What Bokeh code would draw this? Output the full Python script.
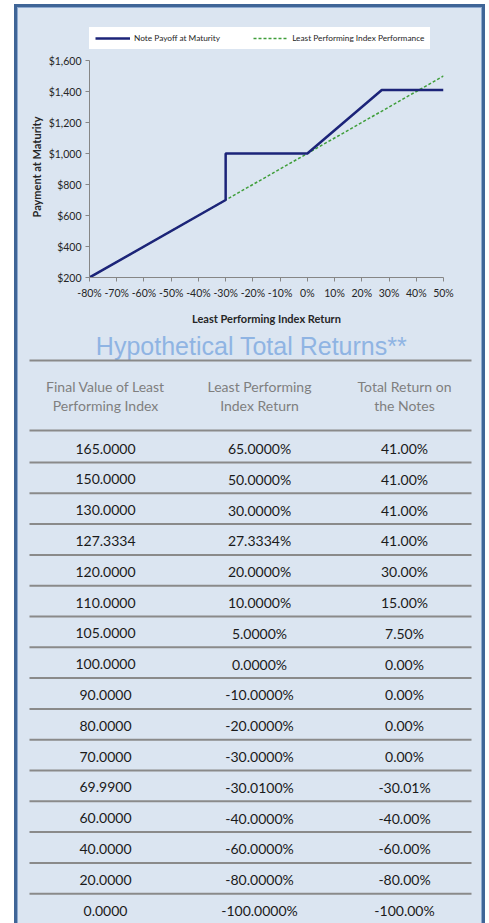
from bokeh.plotting import figure
from bokeh.models import (Range1d, FixedTicker, PrintfTickFormatter, NumeralTickFormatter,
                          Legend, LegendItem, Title)
from bokeh.layouts import column
from bokeh.embed import file_html
from bokeh.resources import INLINE
from bokeh.core.properties import value

# ---------------- data ----------------
payoff_x = [-80, -30, -30, 0, 27.3334, 50]
payoff_y = [200, 700, 1000, 1000, 1410, 1410]
index_x = [-80, 50]
index_y = [200, 1500]
x_ticks = [-80, -70, -60, -50, -40, -30, -20, -10, 0, 10, 20, 30, 40, 50]
y_ticks = [200, 400, 600, 800, 1000, 1200, 1400, 1600]

legend_labels = ["Note Payoff at Maturity", "Least Performing Index Performance"]
x_title = "Least Performing Index Return"
y_title = "Payment at Maturity"

table_title = "Hypothetical Total Returns**"
headers = [["Final Value of Least", "Performing Index"],
           ["Least Performing", "Index Return"],
           ["Total Return on", "the Notes"]]
final_values = [165.0, 150.0, 130.0, 127.3334, 120.0, 110.0, 105.0, 100.0,
                90.0, 80.0, 70.0, 69.99, 60.0, 40.0, 20.0, 0.0]
index_returns = [65.0, 50.0, 30.0, 27.3334, 20.0, 10.0, 5.0, 0.0,
                 -10.0, -20.0, -30.0, -30.01, -40.0, -60.0, -80.0, -100.0]
note_returns = [41.0, 41.0, 41.0, 41.0, 30.0, 15.0, 7.5, 0.0,
                0.0, 0.0, 0.0, -30.01, -40.0, -60.0, -80.0, -100.0]

# ---------------- style ----------------
BG = "#dbe5f1"
NAVY = "#1c2479"
GREEN = "#3f9e3a"
AXIS = "#868686"
TXT = "#262626"
FONT = "Lato"

# chart geometry (pixels inside the chart canvas)
CW, CH = 463, 322
TOP, AX_TOP, BOTTOM = 19, 52, 53        # frame top (legend), $1,600 row, bottom border
plot_h = CH - BOTTOM - AX_TOP           # pixels from $200 to $1,600
y_lo, y_hi = y_ticks[0], y_ticks[-1]
y_top = y_hi + (AX_TOP - TOP) * (y_hi - y_lo) / plot_h

# ---------------- chart ----------------
p = figure(width=CW, height=CH, x_range=Range1d(x_ticks[0], x_ticks[-1]),
           y_range=Range1d(y_lo, y_top),
           output_backend="svg", toolbar_location=None,
           min_border_left=71, min_border_right=38, min_border_top=TOP, min_border_bottom=BOTTOM,
           background_fill_color=None, border_fill_color=BG, outline_line_color=None)
p.grid.visible = False
p.frame_align = False

r_idx = p.line(index_x, index_y, line_color=GREEN, line_width=1.5, line_dash="3 2")
r_pay = p.line(payoff_x, payoff_y, line_color=NAVY, line_width=2.5)

p.xaxis.ticker = FixedTicker(ticks=x_ticks)
p.xaxis.formatter = PrintfTickFormatter(format="%d%%")
p.yaxis.ticker = FixedTicker(ticks=y_ticks)
p.yaxis.formatter = NumeralTickFormatter(format="$0,0")
p.yaxis.bounds = (y_lo, y_hi)
for ax in (p.xaxis, p.yaxis):
    ax.axis_line_color = AXIS
    ax.major_tick_line_color = AXIS
    ax.major_tick_out = 4
    ax.major_tick_in = 0
    ax.minor_tick_line_color = None
    ax.major_label_text_font = FONT
    ax.major_label_text_font_size = "10.5px"
    ax.major_label_text_color = TXT
    ax.axis_label_text_font = FONT
    ax.axis_label_text_font_size = "11px"
    ax.axis_label_text_font_style = "bold"
    ax.axis_label_text_color = TXT
p.xaxis.major_label_standoff = 5
p.xaxis.axis_label = x_title
p.xaxis.axis_label_standoff = 10
p.yaxis.major_label_standoff = 4

ytitle = Title(text=y_title, align="left", offset=60, standoff=5,
               text_font=FONT, text_font_size="11px", text_font_style="bold",
               text_color=TXT)
p.add_layout(ytitle, "left")

legend = Legend(items=[LegendItem(label=legend_labels[0], renderers=[r_pay]),
                       LegendItem(label=legend_labels[1], renderers=[r_idx])],
                orientation="horizontal", location=(0, CH - BOTTOM - 41),
                glyph_width=35, glyph_height=10, label_height=10, label_standoff=4,
                spacing=33, padding=6,
                label_text_font=FONT, label_text_font_size="8.3px", label_text_color=TXT,
                background_fill_color="white", background_fill_alpha=1,
                border_line_alpha=0)
p.add_layout(legend, "center")

# ---------------- table ----------------
TW, TH = 463, 593
t = figure(width=TW, height=TH, x_range=Range1d(0, TW), y_range=Range1d(TH, 0),
           output_backend="svg", toolbar_location=None, min_border=0,
           x_axis_location=None, y_axis_location=None,
           background_fill_color=None, border_fill_color=BG, outline_line_color=None)
t.grid.visible = False
t.frame_align = False

col_x = [87, 241, 386]
LINE_C = "#8a8a8a"
t.text(x=[233], y=[15], text=[table_title], text_font=value("Liberation Sans"),
       text_font_size="25px", text_color="#8fb4e3", text_align="center",
       text_baseline="alphabetic")

rule_y = [30, 100] + [132 + i * 30.8 for i in range(len(final_values) - 1)]
t.segment(x0=[11] * len(rule_y), x1=[453] * len(rule_y), y0=rule_y, y1=rule_y,
          line_color=LINE_C, line_width=2)

for j, hdr in enumerate(headers):
    t.text(x=[col_x[j]] * 2, y=[56, 75], text=hdr, text_font=value(FONT),
           text_font_size="14px", text_color="#7f7f7f", text_align="center",
           text_baseline="alphabetic")

row_y = [118 + i * 30.8 for i in range(len(final_values))]
cols = [[f"{v:.4f}" for v in final_values],
        [f"{v:.4f}%" for v in index_returns],
        [f"{v:.2f}%" for v in note_returns]]
for j, txts in enumerate(cols):
    t.text(x=[col_x[j]] * len(txts), y=row_y, text=txts, text_font=value(FONT),
           text_font_size="14px", text_color="#1a1a1a", text_align="center",
           text_baseline="alphabetic")

layout = column(p, t, spacing=0, margin=(8, 0, 0, 18),
                styles={"background-color": BG,
                        "box-shadow": "0 0 0 1px #8eaad0, 0 0 0 4px #3f6597"})

open("out.html", "w").write(file_html(layout, INLINE))
